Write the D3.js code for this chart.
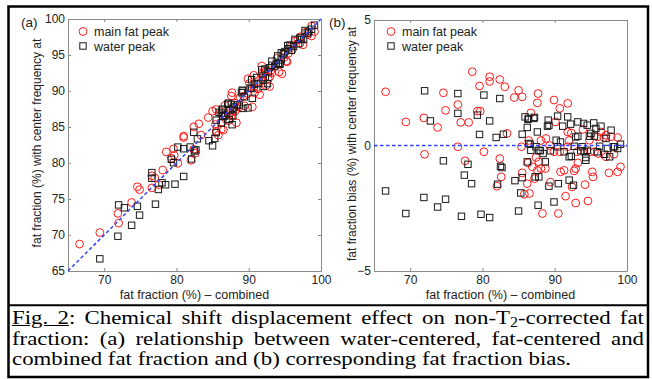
<!DOCTYPE html>
<html>
<head>
<meta charset="utf-8">
<script src="https://cdn.jsdelivr.net/npm/d3@7"></script>
<style>
  body { margin: 0; background: #fff; width: 652px; height: 379px; overflow: hidden; }
  svg { position: absolute; left: 0; top: 0; }
  .cap { position: absolute; font-family: "Liberation Serif", "Times New Roman", serif;
         font-size: 19.5px; line-height: 20.5px; color: #000; transform-origin: 0 0; }
  .cap .j { text-align: justify; text-align-last: justify; white-space: nowrap; }
  .cap .l { text-align: left; white-space: nowrap; }
  .cap .sub { font-size: 0.7em; line-height: 1; position: relative; top: 0.2em; }
</style>
</head>
<body>
<script>
// combined fat fraction (%) and bias (%) of the fat-centered acquisition
const fatX = [66.6, 69.4, 71.9, 72.0, 73.8, 74.6, 74.9, 76.6, 76.6, 77.0, 78.1, 77.6, 78.6, 79.3, 79.7,
  79.6, 80.2, 81.0, 81.0, 82.4, 83.1, 82.4, 82.6, 82.0, 83.4, 84.4, 85.0, 85.5, 85.4, 85.5,
  85.8, 86.2, 86.7, 87.6, 87.7, 88.1, 87.6, 88.3, 89.9, 89.4, 90.5, 90.7, 91.8, 91.8, 91.5,
  92.9, 92.7, 93.2, 94.2, 94.6, 95.2, 95.3, 97.5, 98.7, 99.1, 90.8, 88.8, 89.9, 91.8, 93.9,
  94.9, 96.0, 96.8, 97.8, 98.7, 98.2, 97.1, 95.9, 93.1, 92.3, 90.7, 88.1, 86.4, 86.9, 87.8,
  89.3, 94.8, 87.4, 86.3, 87.2, 86.5, 90.1, 88.7, 91.3, 92.9, 92.4, 97.1, 95.5, 96.4, 92.0];
const fatBias = [2.14, 0.94, 1.10, -0.35, 0.72, 2.10, 1.40, 1.63, -0.05, 0.92, 0.92, -0.61, 2.94, 1.37, 1.37,
  2.37, -0.25, 2.74, 2.55, 2.63, 2.34, -0.52, -1.25, -1.62, 0.48, 1.91, 2.20, 1.94, -0.05, -1.09,
  -1.94, -1.52, 1.30, 1.70, 2.07, -0.92, -0.99, -2.71, 1.81, -1.46, -2.71, 1.48, 1.68, 0.54, -2.02,
  -2.29, -1.01, -0.69, -1.56, -2.21, -1.05, -1.25, -1.09, -1.05, -0.85, -1.05, 0.28, -0.25, -0.05, 0.64,
  -0.25, -0.32, 0.32, 0.35, 0.32, -0.35, -0.45, 0.34, -0.25, 0.50, -0.25, 0.20, 0.20, -0.85, -0.65,
  0.00, 0.21, -0.48, -0.69, -1.32, -1.91, 0.94, -0.92, -0.99, -0.92, -1.65, 0.41, -0.25, 0.54, 0.20];

// combined fat fraction (%) and bias (%) of the water-centered acquisition
const waterX = [66.6, 69.4, 72.0, 71.9, 72.8, 73.8, 74.6, 74.9, 76.6, 76.6, 77.1, 77.5, 78.0, 78.5, 79.3,
  79.6, 79.8, 80.2, 81.0, 81.0, 81.9, 82.4, 82.5, 82.7, 82.9, 82.1, 84.5, 85.0, 85.5, 85.3,
  85.5, 85.9, 86.2, 86.4, 86.6, 86.2, 87.1, 87.6, 87.8, 87.7, 88.4, 88.7, 89.0, 89.1, 89.2,
  89.9, 90.4, 90.2, 90.5, 91.1, 91.8, 91.3, 92.2, 92.3, 92.6, 93.2, 93.2, 93.6, 94.3, 94.5,
  94.8, 95.4, 95.5, 95.9, 96.4, 96.9, 97.1, 97.8, 98.1, 98.7, 99.1, 96.2, 92.7, 93.8, 94.5,
  87.4, 97.3, 97.6, 90.4, 90.8, 87.3, 86.3, 87.2, 86.4, 86.7, 88.0, 89.4, 92.0, 94.1, 87.8,
  92.0, 94.0, 95.7, 95.0, 98.3, 94.3, 89.2, 92.9];
const waterBias = [-1.81, -2.71, 2.18, -2.07, 0.98, -2.45, -0.61, -2.14, 2.07, 1.28, -2.82, -1.18, -0.75, -1.52, 1.21,
  0.44, -2.74, 2.01, 0.98, -2.87, 0.32, 1.87, -0.83, -0.88, 0.45, -1.54, -1.40, -2.61, 0.45, -1.89,
  -1.28, 1.14, 0.72, 1.08, 0.05, -0.65, 1.08, 0.54, -0.19, -2.38, -0.32, -0.65, 0.77, 1.01, -1.62,
  -2.25, 1.17, 0.21, -1.52, 0.77, 1.14, -0.25, 0.85, -0.43, -1.58, 0.37, 0.94, -0.21, -0.48, 0.81,
  0.37, 0.90, 0.37, -0.25, 0.77, -0.35, 0.28, 0.61, -0.05, -0.12, 0.05, -0.03, -0.03, -0.05, -0.19,
  -0.05, -0.12, -0.45, -0.05, 0.14, -1.25, 1.04, 1.12, 0.08, -0.19, -0.21, -0.21, -0.45, -0.25, -1.25,
  -1.38, 0.88, 0.68, 0.48, -0.05, -0.59, 0.81, 0.34];

const seriesNames = ["main fat peak", "water peak"];
const xTicks = [70, 80, 90, 100];
const yTicksA = [65, 70, 75, 80, 85, 90, 95, 100];
const yTicksB = [-5, 0, 5];
const xLabel = "fat fraction (%) \u2013 combined";
const yLabelA = "fat fraction (%) with center frequency at";
const yLabelB = "fat fraction bias (%) with center frequency at";
const captionLines = [
  '<u>Fig. 2</u>: Chemical shift displacement effect on non-T<span class="sub">2</span>-corrected fat',
  'fraction: (a) relationship between water-centered, fat-centered and',
  'combined fat fraction and (b) corresponding fat fraction bias.'
];

const W = 652, H = 379;
const sans = '"Liberation Sans", Arial, Helvetica, sans-serif';
const RED = "#ff1a1a", BLK = "#1a1a1a", BLUE = "#3344ff";

const svg = d3.select("body").append("svg").attr("width", W).attr("height", H);

// figure frame
svg.append("rect").attr("x", 8.5).attr("y", 6.5).attr("width", 639.5).attr("height", 370.5)
  .attr("fill", "none").attr("stroke", "#000").attr("stroke-width", 2.5);
svg.append("line").attr("x1", 8.5).attr("x2", 648).attr("y1", 305.3).attr("y2", 305.3)
  .attr("stroke", "#000").attr("stroke-width", 2);

const fat = fatX.map((x, i) => ({x, b: fatBias[i]}));
const water = waterX.map((x, i) => ({x, b: waterBias[i]}));

function panel(opt) {
  const x = d3.scaleLinear().domain([65, 100]).range(opt.xr);
  const y = d3.scaleLinear().domain(opt.yd).range(opt.yr);
  const g = svg.append("g");
  const [x0, x1] = opt.xr, [y0, y1] = opt.yr;
  const yv = opt.yv;
  // markers whose centre falls outside the axes are not drawn (MATLAB behaviour)
  const inside = d => yv(d) >= opt.yd[0] && yv(d) <= opt.yd[1];

  // axes on all four sides, ticks pointing inward
  const axes = [
    [d3.axisBottom(x).tickValues(xTicks).tickPadding(4.5), `translate(0,${y0})`],
    [d3.axisTop(x).tickValues(xTicks).tickFormat(""), `translate(0,${y1})`],
    [d3.axisLeft(y).tickValues(opt.yt).tickPadding(3), `translate(${x0},0)`],
    [d3.axisRight(y).tickValues(opt.yt).tickFormat(""), `translate(${x1},0)`]
  ];
  axes.forEach(([ax, tr]) => {
    const a = g.append("g").attr("transform", tr)
      .call(ax.tickSizeInner(-3).tickSizeOuter(0));
    a.select(".domain").attr("stroke", "#8a8a8a");
    a.selectAll(".tick line").attr("stroke", "#8a8a8a");
    a.selectAll("text").attr("font-family", sans).attr("font-size", 12).attr("fill", "#222");
  });

  const marks = g.append("g");
  marks.append("g").selectAll("circle").data(fat.filter(inside)).join("circle")
    .attr("cx", d => x(d.x)).attr("cy", d => y(yv(d))).attr("r", 3.9)
    .attr("fill", "none").attr("stroke", RED).attr("stroke-width", 1);
  marks.append("g").selectAll("rect").data(water.filter(inside)).join("rect")
    .attr("x", d => x(d.x) - 3.2).attr("y", d => y(yv(d)) - 3.2)
    .attr("width", 6.4).attr("height", 6.4)
    .attr("fill", "none").attr("stroke", BLK).attr("stroke-width", 1);

  // reference line
  marks.append("line")
    .attr("x1", x(65)).attr("y1", y(opt.ref[0]))
    .attr("x2", x(100)).attr("y2", y(opt.ref[1]))
    .attr("stroke", BLUE).attr("stroke-width", 1.5).attr("stroke-dasharray", "3.5,2.5");

  // legend
  const lx = x0 + opt.lg, ly = [31.5, 46];
  g.append("circle").attr("cx", lx).attr("cy", ly[0]).attr("r", 3.9)
    .attr("fill", "none").attr("stroke", RED);
  g.append("rect").attr("x", lx - 3.2).attr("y", ly[1] - 3.2).attr("width", 6.4).attr("height", 6.4)
    .attr("fill", "none").attr("stroke", BLK);
  seriesNames.forEach((s, i) => g.append("text").attr("x", lx + 11).attr("y", ly[i] + 4.5)
    .attr("font-family", sans).attr("font-size", 12.5).attr("fill", "#222").text(s));

  // labels
  g.append("text").attr("x", (x0 + x1) / 2).attr("y", 298.5).attr("text-anchor", "middle")
    .attr("font-family", sans).attr("font-size", 12.5).attr("fill", "#222").text(xLabel);
  g.append("text").attr("transform", `translate(${opt.ylx},${opt.ylc}) rotate(-90)`)
    .attr("dy", "0.35em").attr("text-anchor", "middle")
    .attr("font-family", sans).attr("font-size", 12).attr("fill", "#222").text(opt.yl);
  g.append("text").attr("x", opt.tag[0]).attr("y", 26.5)
    .attr("font-family", sans).attr("font-size", 13.5).attr("fill", "#222").text(opt.tag[1]);
}

panel({xr: [68, 321], yr: [271, 19], yd: [65, 100], yt: yTicksA, yv: d => d.x + d.b,
  ref: [65, 100], lg: 15, ylx: 37, ylc: 143, yl: yLabelA, tag: [21, "(a)"]});
panel({xr: [374, 627], yr: [271, 20], yd: [-5, 5], yt: yTicksB, yv: d => d.b,
  ref: [0, 0], lg: 17, ylx: 352, ylc: 144, yl: yLabelB, tag: [329, "(b)"]});

// caption: justified serif text, stretched to the width it has in the reference
const probe = d3.select("body").append("span").attr("class", "cap")
  .style("white-space", "nowrap").html(captionLines[2]);
const k = 559 / probe.node().getBoundingClientRect().width;
probe.remove();
const cap = d3.select("body").append("div").attr("class", "cap")
  .style("left", "12px").style("top", "308.2px")
  .style("width", (632 / k) + "px").style("transform", `scaleX(${k})`);
captionLines.forEach((h, i) => cap.append("div").attr("class", i < 2 ? "j" : "l").html(h));
</script>
</body>
</html>
